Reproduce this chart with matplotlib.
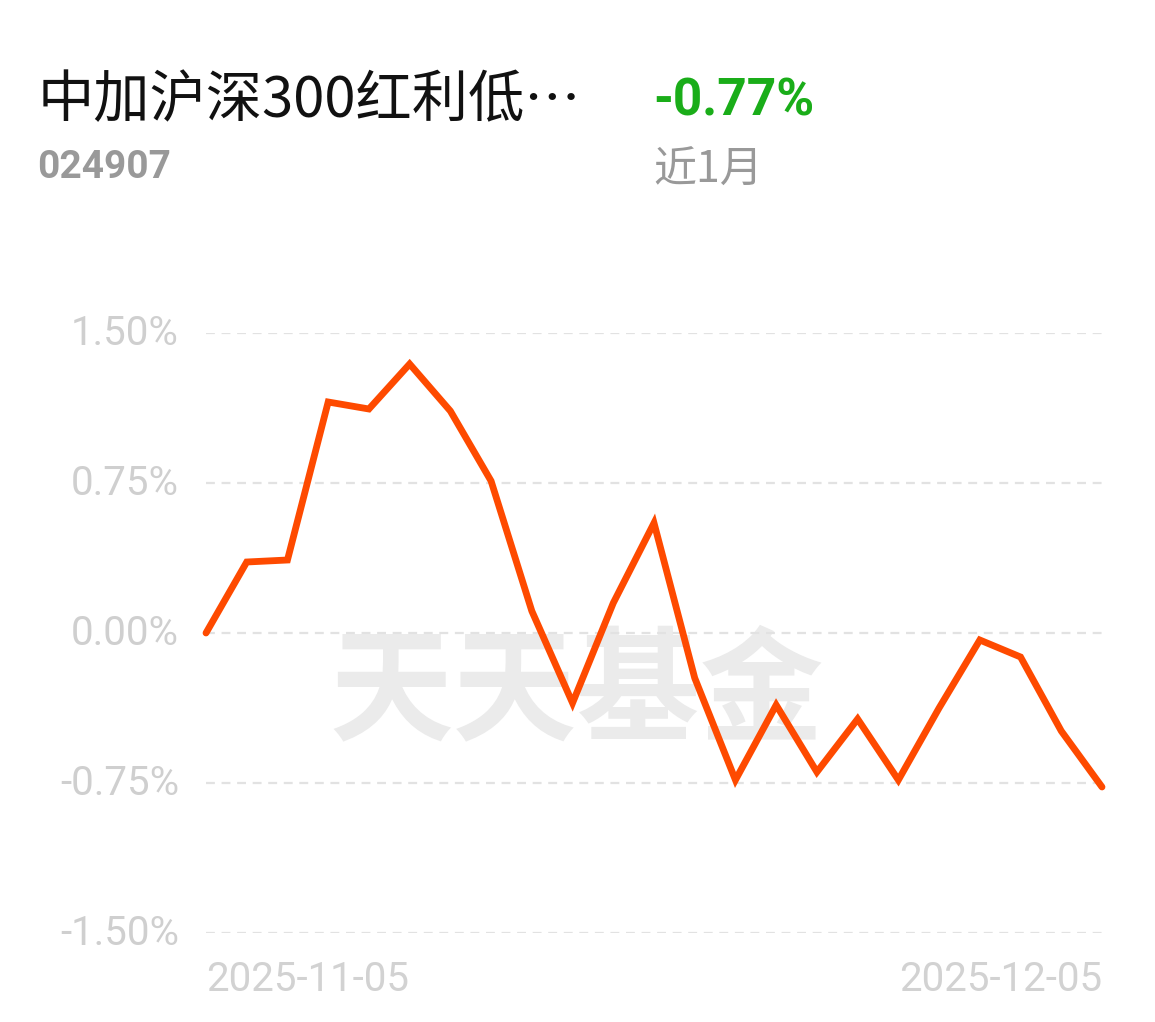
import matplotlib
matplotlib.use("Agg")
import matplotlib.pyplot as plt
import numpy as np

plt.rcParams['font.family'] = ['Noto Sans CJK SC', 'DejaVu Sans']

# data (percent return, daily)
returns = [0.00, 0.355, 0.365, 1.155, 1.12, 1.345, 1.11, 0.76, 0.11, -0.35,
           0.15, 0.55, -0.225, -0.735, -0.36, -0.695, -0.43, -0.735, -0.375,
           -0.035, -0.12, -0.49, -0.77]
y_ticks = [1.50, 0.75, 0.00, -0.75, -1.50]
y_labels = ["1.50%", "0.75%", "0.00%", "-0.75%", "-1.50%"]
x_labels = ["2025-11-05", "2025-12-05"]
fund_name = "中加沪深300红利低…"
fund_code = "024907"
period_ret = "-0.77%"
period_name = "近1月"

W, H = 1155, 1022
fig = plt.figure(figsize=(W / 100, H / 100), dpi=100)
fig.patch.set_facecolor("white")

ax = fig.add_axes([206 / W, 1 - 933 / H, 896 / W, 600 / H])
x = np.arange(len(returns))
ax.set_xlim(0, len(returns) - 1)
ax.set_ylim(-1.5, 1.5)

for yv in y_ticks:
    ax.axhline(yv, color="#e2e2e2", lw=1.6, dashes=(4, 3), zorder=1)

# watermark
ax.text(0.414, 0.398, "天天基金", transform=ax.transAxes, ha="center", va="center",
        fontsize=89, fontweight="bold", color="#ebebeb", zorder=0,
        family=["Noto Sans CJK SC"])

ax.plot(x, returns, color="#fe4a00", lw=4.9, solid_joinstyle="miter",
        solid_capstyle="round", zorder=3, clip_on=False)

for sp in ax.spines.values():
    sp.set_visible(False)
ax.set_xticks([])
ax.set_yticks([])

tick_font = ["Roboto", "DejaVu Sans"]
for yv, lab in zip(y_ticks, y_labels):
    ax.text(-27 / 896 * (len(returns) - 1), yv, lab, ha="right", va="center",
            fontsize=29, color="#cfcfcf", family=tick_font)

ax.text(0, -1.5 - 46 / 200, x_labels[0], ha="left", va="center",
        fontsize=29, color="#d2d2d2", family=tick_font)
ax.text(len(returns) - 1, -1.5 - 46 / 200, x_labels[1], ha="right", va="center",
        fontsize=29, color="#d2d2d2", family=tick_font)

# header
fig.text(38 / W, 1 - 101 / H, fund_name, ha="left", va="center", fontsize=40.5,
         color="#111111")
fig.text(37 / W, 1 - 168 / H, fund_code, ha="left", va="center", fontsize=28,
         fontweight="bold", color="#999999", family=["Roboto", "DejaVu Sans"])
fig.text(653 / W, 1 - 101 / H, period_ret, ha="left", va="center", fontsize=37,
         fontweight="bold", color="#1aad19", family=["Roboto", "DejaVu Sans"])
fig.text(653 / W, 1 - 171 / H, period_name, ha="left", va="center", fontsize=31,
         color="#999999")

fig.savefig("out.png", dpi=100, facecolor="white")
